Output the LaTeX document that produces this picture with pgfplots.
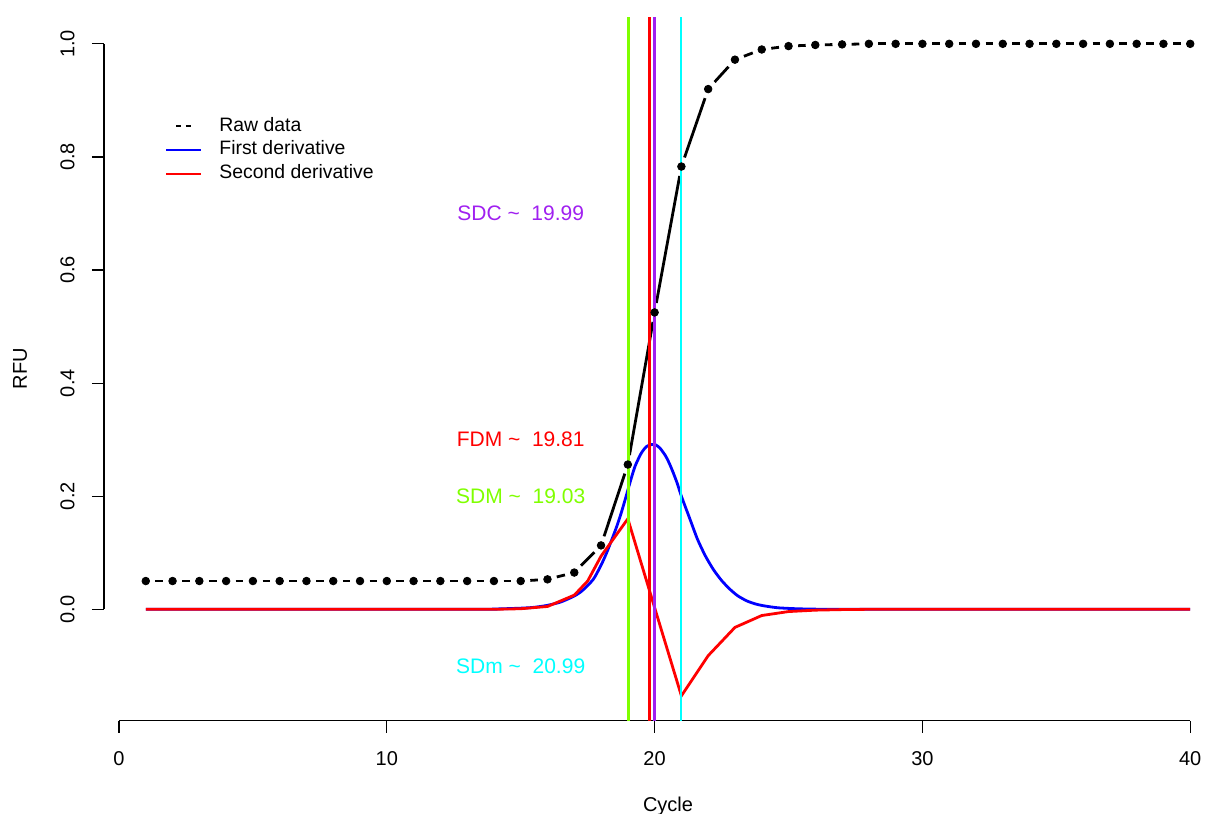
\documentclass[border=0pt]{standalone}
\usepackage{fontspec}
\setmainfont{Liberation Sans}
\usepackage{pgfplots}
\usepackage{pgfplotstable}
\pgfplotsset{compat=1.18}

\definecolor{sdcpurple}{HTML}{A020F0}
\definecolor{sdmgreen}{HTML}{7FFF00}
\definecolor{sdmcyan}{HTML}{00FFFF}

% raw fluorescence per cycle
\pgfplotstableread{
cycle rfu
1 0.050
2 0.050
3 0.050
4 0.050
5 0.050
6 0.050
7 0.050
8 0.050
9 0.050
10 0.050
11 0.050
12 0.050
13 0.050
14 0.050
15 0.050
16 0.053
17 0.065
18 0.113
19 0.256
20 0.525
21 0.783
22 0.920
23 0.972
24 0.990
25 0.996
26 0.998
27 0.999
28 1.000
29 1.000
30 1.000
31 1.000
32 1.000
33 1.000
34 1.000
35 1.000
36 1.000
37 1.000
38 1.000
39 1.000
40 1.000
}\rawdata

% first derivative (scaled)
\pgfplotstableread{
x y
1 0
13 0
14 0.0005
15 0.002
15.5 0.0035
16 0.007
16.5 0.013
17 0.0235
17.3 0.033
17.71 0.053
18 0.078
18.21 0.100
18.4 0.123
18.59 0.147
18.75 0.170
18.9 0.194
19.08 0.224
19.27 0.253
19.5 0.276
19.7 0.288
19.9 0.2915
20.05 0.2905
20.2 0.285
20.4 0.272
20.55 0.258
20.7 0.241
20.85 0.222
21 0.200
21.3 0.162
21.6 0.124
21.9 0.094
22.2 0.070
22.5 0.051
22.8 0.036
23.1 0.024
23.45 0.0147
23.8 0.009
24.1 0.006
24.6 0.0027
25.3 0.001
26 0.0003
27 0
40 0
}\firstderiv

% second derivative (scaled)
\pgfplotstableread{
x y
1 0
14 0
15 0.001
16 0.005
17 0.025
17.5 0.050
18 0.094
19 0.160
20 0.003
21 -0.153
22 -0.082
23 -0.032
24 -0.011
25 -0.004
26 -0.0015
27 -0.0005
28 0
40 0
}\secondderiv

\begin{document}
\begin{tikzpicture}
\path[use as bounding box] (-52pt,-46.25pt) rectangle (550.5pt,360.35pt);
\begin{axis}[
  at={(0pt,0pt)}, anchor=south west,
  scale only axis, width=564pt, height=352pt,
  xmin=-0.56, xmax=41.56, ymin=-0.197, ymax=1.048,
  clip=false,
  axis x line*=bottom, axis y line*=left,
  axis line style={draw=none},
  tick align=outside, major tick length=6pt,
  tick style={black, line width=0.6pt},
  xtick={0,10,20,30,40},
  ytick={0,0.2,0.4,0.6,0.8,1.0},
  /pgf/number format/assume math mode=true,
  ticklabel style={font=\fontsize{10}{12}\selectfont, inner sep=0pt},
  xticklabel style={anchor=north},
  yticklabel style={rotate=90, anchor=south,
    /pgf/number format/fixed, /pgf/number format/fixed zerofill,
    /pgf/number format/precision=1},
  xticklabel shift=9.1pt,
  yticklabel shift=8.5pt,
  xlabel={Cycle}, ylabel={RFU},
  label style={font=\fontsize{10}{12}\selectfont},
  xlabel style={at={(axis description cs:0.5,-0.1222)}, anchor=center},
  ylabel style={at={(axis description cs:-0.0745,0.5)}, anchor=center},
  legend style={draw=none, fill=none, at={(axis cs:1.718,0.8124)}, anchor=west,
    inner sep=0pt, row sep=2.8pt, column sep=8.5pt,
    font=\fontsize{9.7}{11}\selectfont,
    nodes={inner sep=0pt, text height=7pt, text depth=2pt}},
  legend cell align=left,
]
\draw[black, line width=0.6pt] (axis cs:0,-0.197) -- (axis cs:40,-0.197);
\draw[black, line width=0.6pt] (axis cs:-0.56,0) -- (axis cs:-0.56,1);

% raw data: one segment per pair of cycles, left open round the points
\addplot[black, line width=1.4pt,
  shorten <=4.8pt, shorten >=4.8pt,
  skip coords between index={2}{40},
  legend image code/.code={\draw[black, line width=0.9pt,
    dash pattern=on 2.4pt off 2.55pt] (0pt,0pt) -- (17.5pt,0pt);}]
  table[x=cycle, y=rfu] {\rawdata};
\addlegendentry{Raw data}
\pgfplotsforeachungrouped \i in {1,...,38}{%
  \pgfmathtruncatemacro\j{\i+2}%
  \edef\seg{\noexpand\addplot[black, line width=1.4pt, forget plot,
    shorten <=4.8pt, shorten >=4.8pt,
    skip coords between index={0}{\i},
    skip coords between index={\j}{40}]
    table[x=cycle, y=rfu] {\noexpand\rawdata};}%
  \seg
}

\addplot[blue, line width=1.4pt, smooth, tension=0.4,
  legend image code/.code={\draw[blue, line width=1pt] (0pt,0pt) -- (17.5pt,0pt);}]
  table[x=x, y=y] {\firstderiv};
\addlegendentry{First derivative}
\addplot[red, line width=1.4pt,
  legend image code/.code={\draw[red, line width=1pt] (0pt,0pt) -- (17.5pt,0pt);}]
  table[x=x, y=y] {\secondderiv};
\addlegendentry{Second derivative}

\addplot[sdmgreen, line width=1.2pt, forget plot] coordinates {(19.03,-0.197) (19.03,1.048)};
\addplot[red, line width=1.2pt, forget plot] coordinates {(19.81,-0.197) (19.81,1.048)};
\addplot[sdcpurple, line width=1.2pt, forget plot] coordinates {(19.99,-0.197) (19.99,1.048)};
\addplot[sdmcyan, line width=1.2pt, forget plot] coordinates {(20.99,-0.197) (20.99,1.048)};

\addplot[only marks, mark=*, mark size=1.9pt, black, forget plot] table[x=cycle, y=rfu] {\rawdata};

\node[sdcpurple, font=\fontsize{10.5}{12}\selectfont] at (axis cs:15,0.7) {SDC \textasciitilde\ \ 19.99};
\node[red, font=\fontsize{10.5}{12}\selectfont] at (axis cs:15,0.3) {FDM \textasciitilde\ \ 19.81};
\node[sdmgreen, font=\fontsize{10.5}{12}\selectfont] at (axis cs:15,0.2) {SDM \textasciitilde\ \ 19.03};
\node[sdmcyan, font=\fontsize{10.5}{12}\selectfont] at (axis cs:15,-0.1) {SDm \textasciitilde\ \ 20.99};
\end{axis}
\end{tikzpicture}
\end{document}
